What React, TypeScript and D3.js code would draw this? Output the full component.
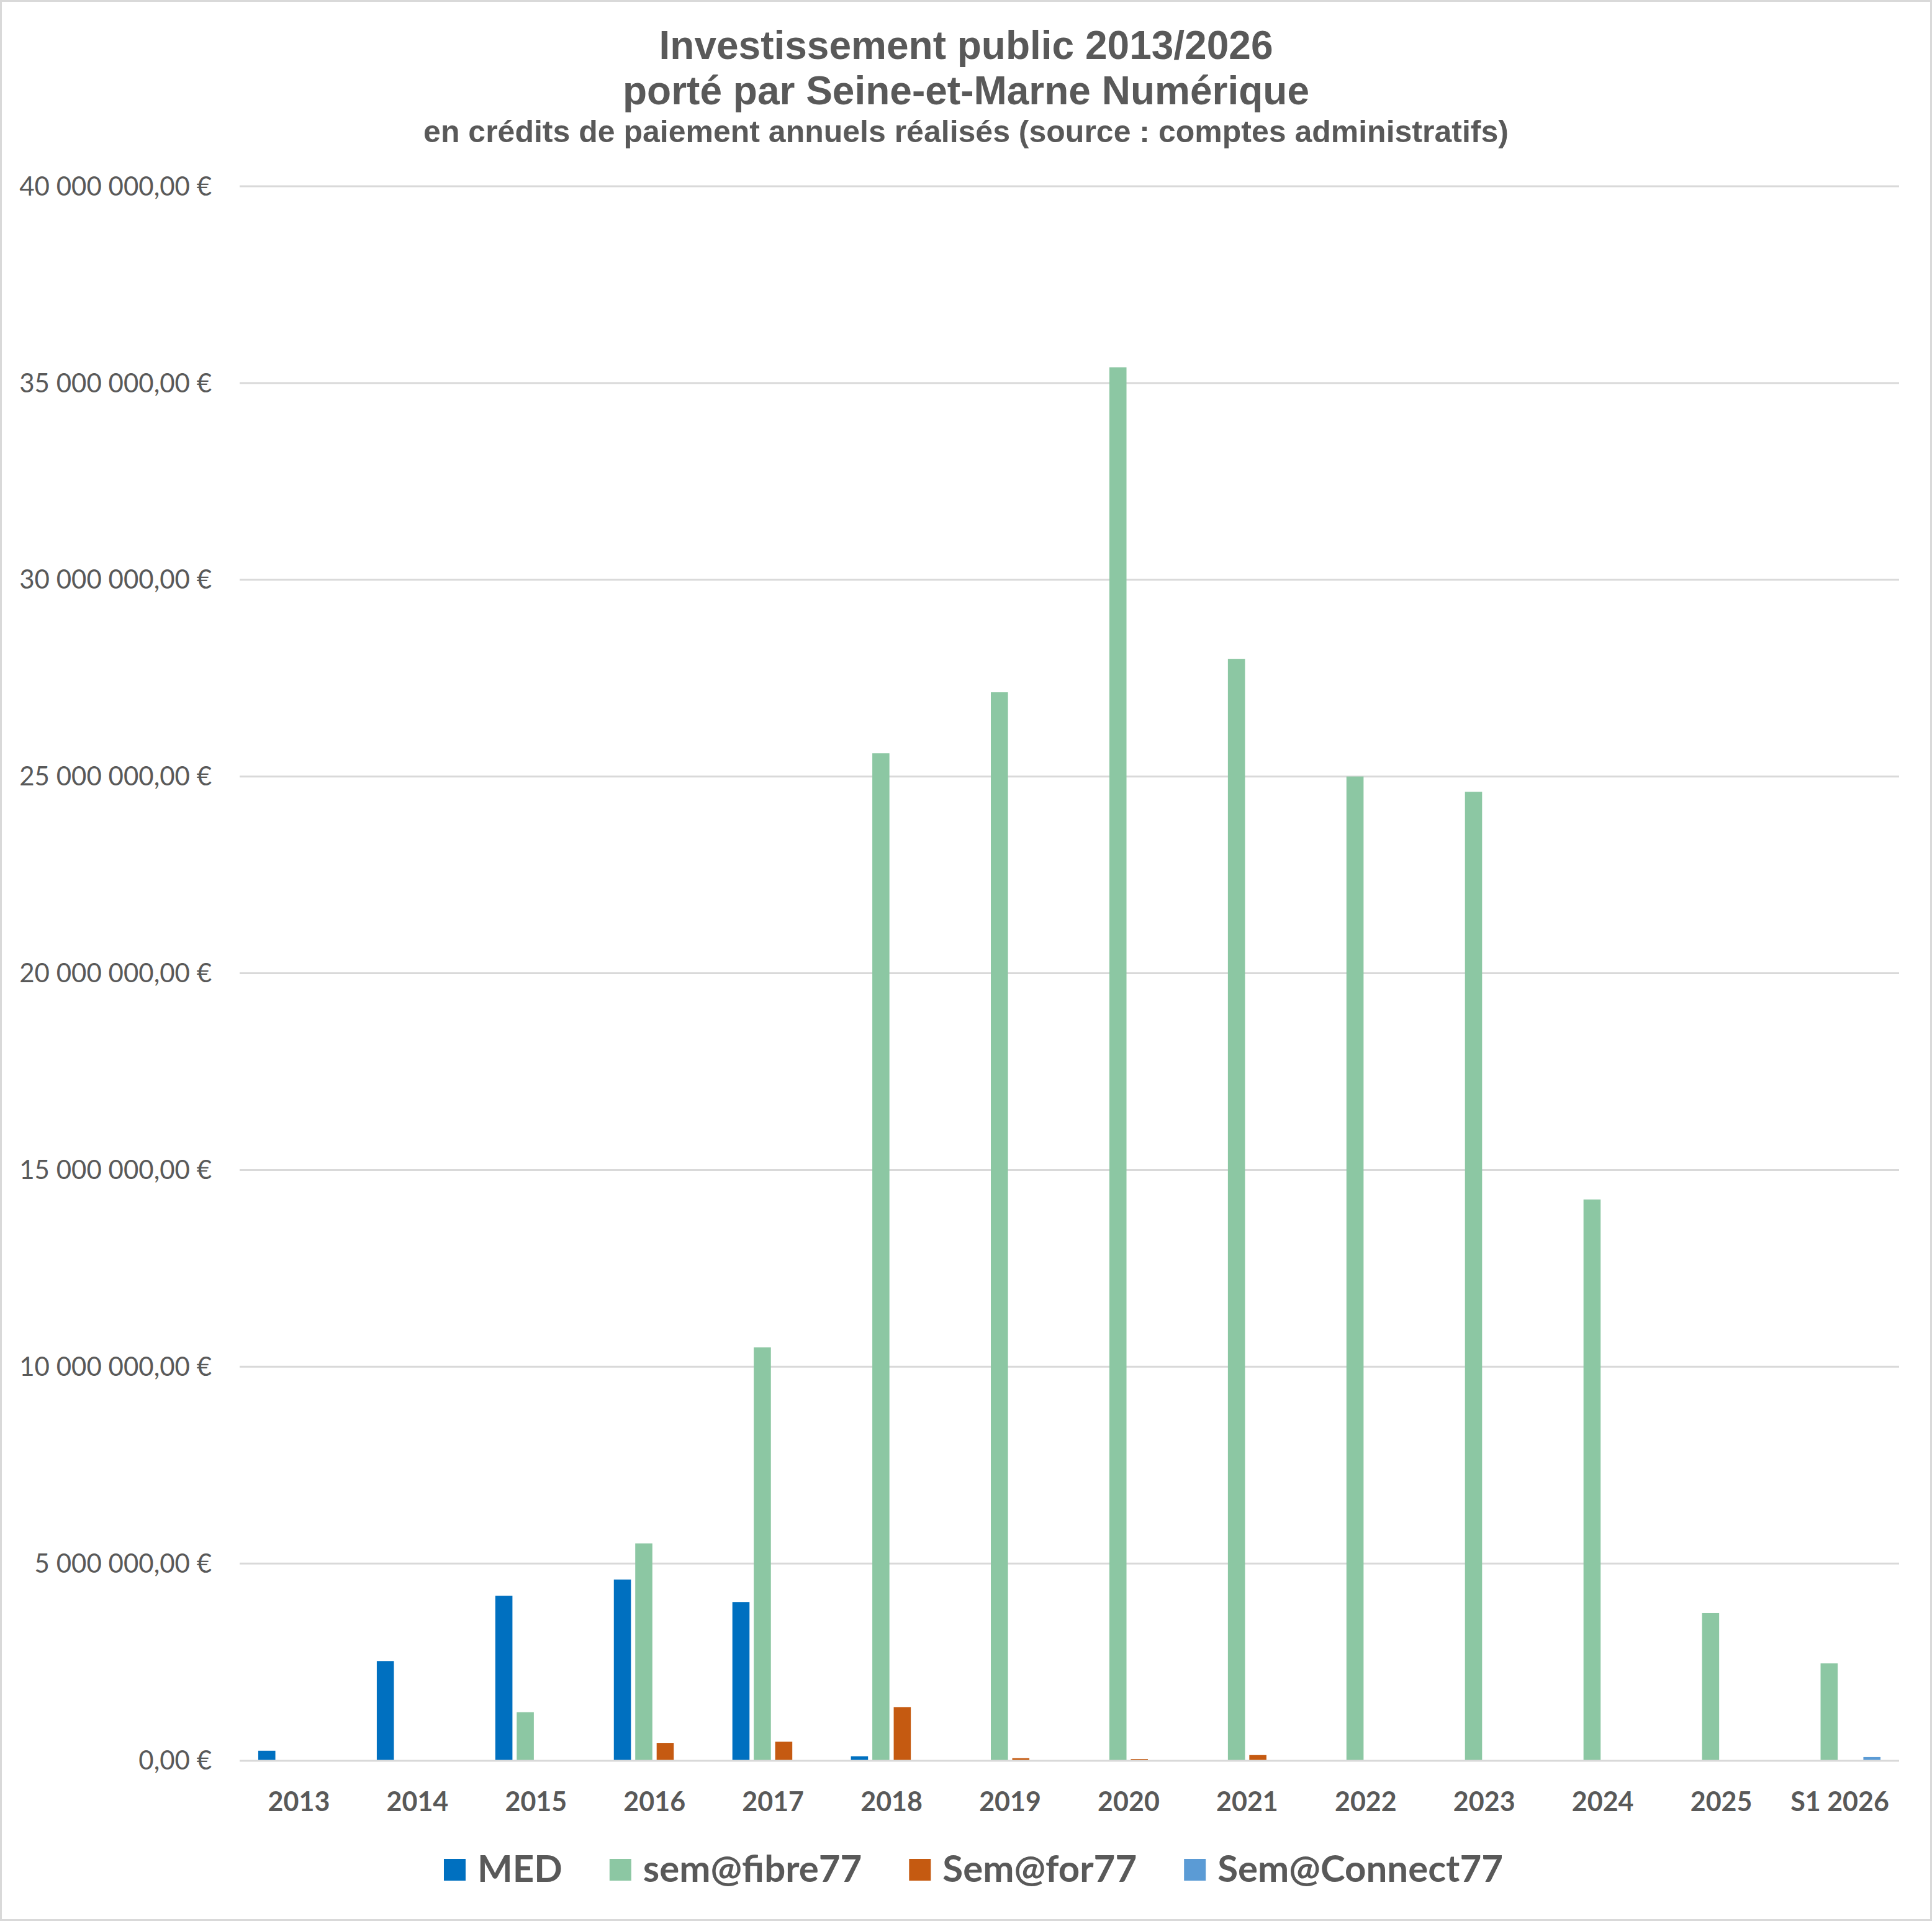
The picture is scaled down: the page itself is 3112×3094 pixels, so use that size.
import React, { useEffect, useRef } from "react";
import * as d3 from "d3";

const categories = ["2013", "2014", "2015", "2016", "2017", "2018", "2019", "2020", "2021", "2022", "2023", "2024", "2025", "S1 2026"];
const seriesNames = ["MED", "sem@fibre77", "Sem@for77", "Sem@Connect77"];
const medValues = [240000, 2520000, 4180000, 4590000, 4020000, 100000, 0, 0, 0, 0, 0, 0, 0, 0];
const fibreValues = [0, 0, 1220000, 5510000, 10490000, 25590000, 27140000, 35400000, 27990000, 25000000, 24610000, 14250000, 3740000, 2460000];
const forValues = [0, 0, 0, 440000, 470000, 1350000, 50000, 30000, 130000, 0, 0, 0, 0, 0];
const connectValues = [0, 0, 0, 0, 0, 0, 0, 0, 0, 0, 0, 0, 0, 80000];
const seriesColors = ["#0070C0", "#8CC7A3", "#C55A11", "#5B9BD5"];
const yTicks = [0, 5000000, 10000000, 15000000, 20000000, 25000000, 30000000, 35000000, 40000000];
const titleLines = ["Investissement public 2013/2026", "porté par Seine-et-Marne Numérique"];
const subtitle = "en crédits de paiement annuels réalisés (source : comptes administratifs)";

const W = 3112;
const H = 3094;

export default function App() {
  const ref = useRef<SVGSVGElement | null>(null);

  useEffect(() => {
    document.body.style.margin = "0";
    document.body.style.overflow = "hidden";
    const svg = d3.select(ref.current);
    svg.selectAll("*").remove();

    const textColor = "#595959";
    const gridColor = "#D9D9D9";
    const font = "Lato, 'Open Sans', sans-serif";

    svg.append("rect").attr("x", 0).attr("y", 0).attr("width", W).attr("height", H).attr("fill", "#fff");
    svg.append("rect").attr("x", 1.5).attr("y", 1.5).attr("width", W - 3).attr("height", H - 3)
      .attr("fill", "none").attr("stroke", gridColor).attr("stroke-width", 3);

    // Titles
    const titleFont = "'Liberation Sans', Arial, sans-serif";
    svg.append("text").attr("x", W / 2).attr("y", 95).attr("text-anchor", "middle")
      .attr("font-family", titleFont).attr("font-weight", "bold").attr("font-size", 64)
      .attr("fill", textColor).text(titleLines[0]);
    svg.append("text").attr("x", W / 2).attr("y", 168).attr("text-anchor", "middle")
      .attr("font-family", titleFont).attr("font-weight", "bold").attr("font-size", 64)
      .attr("fill", textColor).text(titleLines[1]);
    svg.append("text").attr("x", W / 2).attr("y", 229).attr("text-anchor", "middle")
      .attr("font-family", titleFont).attr("font-weight", "bold").attr("font-size", 50)
      .attr("fill", textColor).text(subtitle);

    const x0 = 386, x1 = 3059, yBase = 2835, yTop = 300;
    const y = d3.scaleLinear().domain([0, 40000000]).range([yBase, yTop]);
    const outer = d3.scaleBand<string>().domain(categories).range([x0, x1]).paddingInner(0.314).paddingOuter(0.157);
    const inner = d3.scaleBand<string>().domain(seriesNames).range([0, outer.bandwidth()]).paddingInner(0.2);

    const loc = d3.formatLocale({ decimal: ",", thousands: " ", grouping: [3], currency: ["", " €"] });
    const fmt = loc.format(",.2f");

    // Gridlines
    svg.append("g").selectAll("line").data(yTicks.filter((t) => t > 0)).join("line")
      .attr("x1", x0).attr("x2", x1).attr("y1", (d) => y(d)).attr("y2", (d) => y(d))
      .attr("stroke", gridColor).attr("stroke-width", 3);

    // Y labels
    svg.append("g").selectAll("text").data(yTicks).join("text")
      .attr("x", 341).attr("y", (d) => y(d)).attr("dy", "0.35em").attr("text-anchor", "end")
      .attr("font-family", font).attr("font-size", 42).attr("fill", textColor)
      .text((d) => fmt(d) + " €");

    // Bars
    const allSeries = [medValues, fibreValues, forValues, connectValues];
    allSeries.forEach((vals, si) => {
      const rows = categories.map((c, i) => ({ c, v: vals[i] })).filter((r) => r.v > 0);
      svg.append("g").selectAll("rect").data(rows).join("rect")
        .attr("x", (d) => (outer(d.c) as number) + (inner(seriesNames[si]) as number))
        .attr("width", inner.bandwidth())
        .attr("y", (d) => y(d.v))
        .attr("height", (d) => yBase - y(d.v))
        .attr("fill", seriesColors[si]);
    });

    // Baseline
    svg.append("line").attr("x1", x0).attr("x2", x1).attr("y1", yBase + 1).attr("y2", yBase + 1)
      .attr("stroke", gridColor).attr("stroke-width", 3);

    // X labels
    svg.append("g").selectAll("text").data(categories).join("text")
      .attr("x", (d) => (outer(d) as number) + outer.bandwidth() / 2).attr("y", 2917)
      .attr("text-anchor", "middle").attr("font-family", font).attr("font-weight", "bold")
      .attr("font-size", 43).attr("fill", textColor).text((d) => d);

    // Legend
    const lg = svg.append("g");
    const sq = 35, gapIn = 19, gapOut = 76;
    const items = seriesNames.map((name, i) => {
      const g = lg.append("g");
      g.append("rect").attr("width", sq).attr("height", sq).attr("y", 2994).attr("fill", seriesColors[i]);
      const t = g.append("text").attr("x", sq + gapIn).attr("y", 3031)
        .attr("font-family", font).attr("font-weight", "bold").attr("font-size", 60)
        .attr("fill", textColor).text(name);
      const w = (t.node() as SVGTextElement).getComputedTextLength();
      return { g, w: sq + gapIn + w };
    });
    const total = items.reduce((a, b) => a + b.w, 0) + gapOut * (items.length - 1);
    let cx = 1568 - total / 2;
    items.forEach((it) => {
      it.g.attr("transform", `translate(${cx},0)`);
      cx += it.w + gapOut;
    });
  }, []);

  return <svg ref={ref} width={W} height={H} style={{ display: "block" }} />;
}
